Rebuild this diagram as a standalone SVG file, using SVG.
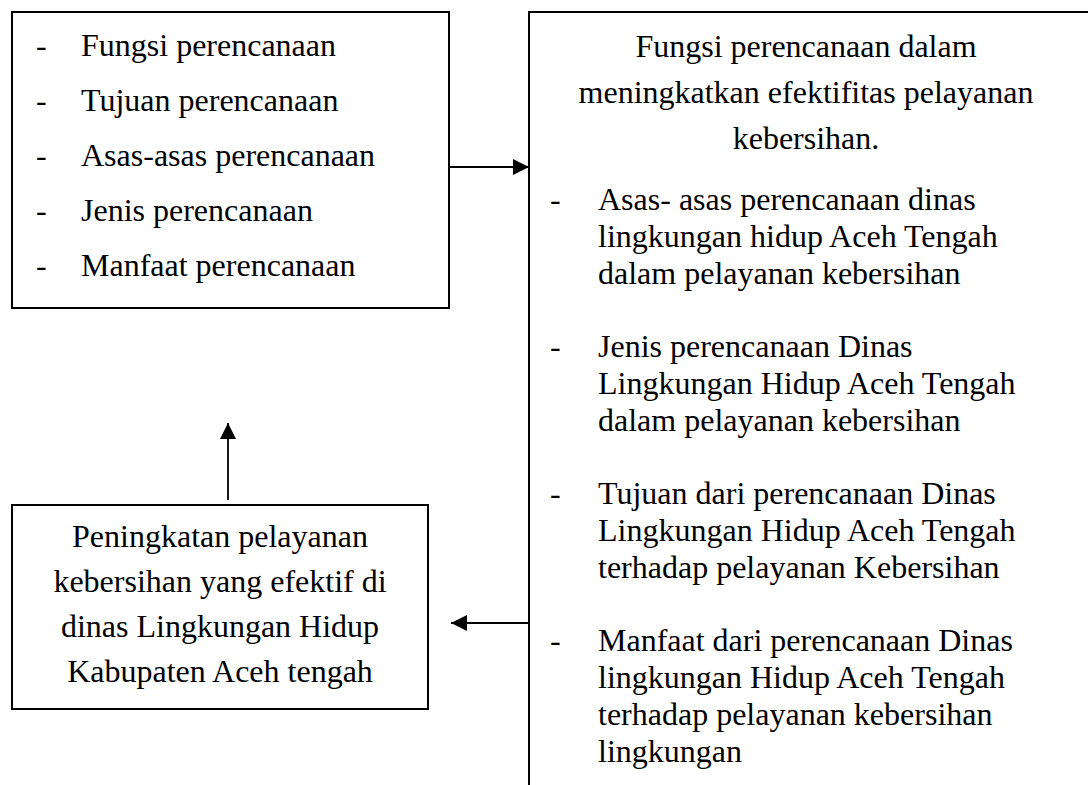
<svg xmlns="http://www.w3.org/2000/svg" width="1088" height="785" viewBox="0 0 1088 785">
<style>
text{font-family:"Liberation Serif","Times New Roman",serif;font-size:32px;fill:#000}
.box{fill:none;stroke:#000;stroke-width:2}
.ln{stroke:#000;stroke-width:1.8;fill:none}
.c{text-anchor:middle}
</style>
<defs>
<marker id="ah" viewBox="0 0 16 16" refX="16" refY="8" markerWidth="16" markerHeight="16" markerUnits="userSpaceOnUse" orient="auto">
<path d="M0,0 L16,8 L0,16 Z" fill="#000"/>
</marker>
</defs>
<rect width="1088" height="785" fill="#fff"/>
<g id="node-left">
<rect class="box" x="12" y="12" width="437" height="296"/>
<text x="36" y="56">-</text><text x="81" y="56">Fungsi perencanaan</text>
<text x="36" y="111">-</text><text x="81" y="111">Tujuan perencanaan</text>
<text x="36" y="166">-</text><text x="81" y="166">Asas-asas perencanaan</text>
<text x="36" y="221">-</text><text x="81" y="221">Jenis perencanaan</text>
<text x="36" y="276">-</text><text x="81" y="276">Manfaat perencanaan</text>
</g>
<g id="node-right">
<path class="box" d="M529,785 L529,12 L1088,12"/>
<text class="c" x="806" y="57">Fungsi perencanaan dalam</text>
<text class="c" x="806" y="103">meningkatkan efektifitas pelayanan</text>
<text class="c" x="806" y="149">kebersihan.</text>
<text x="550" y="210">-</text><text x="598" y="210">Asas- asas perencanaan dinas</text>
<text x="598" y="247">lingkungan hidup Aceh Tengah</text>
<text x="598" y="284">dalam pelayanan kebersihan</text>
<text x="550" y="357">-</text><text x="598" y="357">Jenis perencanaan Dinas</text>
<text x="598" y="394">Lingkungan Hidup Aceh Tengah</text>
<text x="598" y="431">dalam pelayanan kebersihan</text>
<text x="550" y="504">-</text><text x="598" y="504">Tujuan dari perencanaan Dinas</text>
<text x="598" y="541">Lingkungan Hidup Aceh Tengah</text>
<text x="598" y="578">terhadap pelayanan Kebersihan</text>
<text x="550" y="651">-</text><text x="598" y="651">Manfaat dari perencanaan Dinas</text>
<text x="598" y="688">lingkungan Hidup Aceh Tengah</text>
<text x="598" y="725">terhadap pelayanan kebersihan</text>
<text x="598" y="762">lingkungan</text>
</g>
<g id="node-bottom">
<rect class="box" x="12" y="505" width="416" height="204"/>
<text class="c" x="220" y="547">Peningkatan pelayanan</text>
<text class="c" x="220" y="592">kebersihan yang efektif di</text>
<text class="c" x="220" y="637">dinas Lingkungan Hidup</text>
<text class="c" x="220" y="682">Kabupaten Aceh tengah</text>
</g>
<g id="connectors">
<line class="ln" x1="449" y1="167" x2="529" y2="167" marker-end="url(#ah)"/>
<line class="ln" x1="529" y1="623" x2="451" y2="623" marker-end="url(#ah)"/>
<line class="ln" x1="228" y1="500" x2="228" y2="423" marker-end="url(#ah)"/>
</g>
</svg>
